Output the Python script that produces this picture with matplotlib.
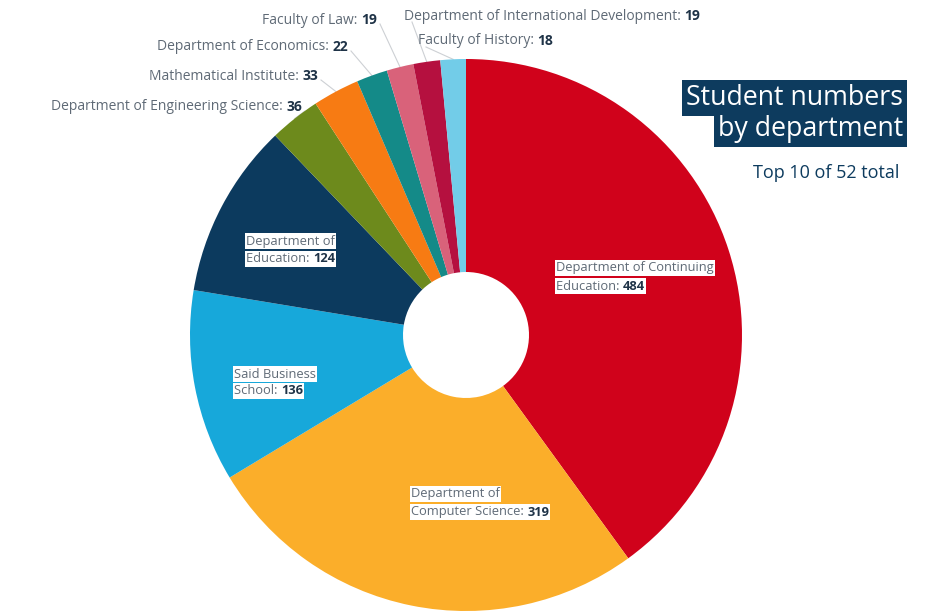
import matplotlib
matplotlib.use("Agg")
import matplotlib.pyplot as plt
import numpy as np

departments = ["Department of Continuing Education", "Department of Computer Science",
               "Said Business School", "Department of Education",
               "Department of Engineering Science", "Mathematical Institute",
               "Department of Economics", "Faculty of Law",
               "Department of International Development", "Faculty of History"]
students = [484, 319, 136, 124, 36, 33, 22, 19, 19, 18]
colors = ["#d0021b", "#fbae2a", "#17a8da", "#0c3a5e", "#6d8a1c", "#f77b13",
          "#148a88", "#d9627a", "#b5103f", "#72cce8"]

W, H = 931, 614
fig = plt.figure(figsize=(W / 100, H / 100), dpi=100)
ax = fig.add_axes([0, 0, 1, 1])

cx, cy, R, r_in = 466, H - 335, 276, 63
wedges, _ = ax.pie(students, colors=colors, startangle=90, counterclock=False,
                   center=(cx, cy), radius=R, frame=True,
                   wedgeprops=dict(width=R - r_in, linewidth=0))
ax.set_xlim(0, W)
ax.set_ylim(0, H)
ax.set_aspect("equal")
ax.axis("off")

FONT = "Open Sans"
TXT = "#5f6a76"
VAL = "#1f3347"
fig.canvas.draw()
rend = fig.canvas.get_renderer()

def two_part(x, y, normal, bold, ha="left", box=False, size=8.5):
    bb = dict(boxstyle="square,pad=0.08", fc="white", ec="none") if box else None
    if ha == "left":
        t = ax.text(x, H - y, normal, ha="left", va="center", fontsize=size,
                    family=FONT, color=TXT, bbox=bb)
        if bold:
            w = t.get_window_extent(rend).width
            ax.text(x + w, H - y, bold, ha="left", va="center", fontsize=size,
                    family=FONT, color=VAL, weight="bold", bbox=bb)
    else:
        tb = ax.text(x, H - y, bold, ha="right", va="center", fontsize=size,
                     family=FONT, color=VAL, weight="bold", bbox=bb)
        w = tb.get_window_extent(rend).width
        ax.text(x - w, H - y, normal, ha="right", va="center", fontsize=size,
                family=FONT, color=TXT, bbox=bb)

# inside labels
inside = [
    (556, 268, "Department of Continuing", 286, "Education: ", 0),
    (411, 494, "Department of", 512, "Computer Science: ", 1),
    (234, 374, "Said Business", 391, "School: ", 2),
    (246, 241, "Department of", 259, "Education: ", 3),
]
for x, y1, l1, y2, l2, i in inside:
    two_part(x, y1, l1, "", box=True, size=9.3)
    two_part(x, y2, l2, str(students[i]), box=True, size=9.3)

# outside labels with leader lines
total = sum(students)
cum = np.cumsum([0] + students)
def edge_point(i):
    frac = (cum[i] + students[i] / 2) / total
    ang = np.deg2rad(90 - frac * 360)
    return cx + R * np.cos(ang), cy + R * np.sin(ang)

outside = [
    (4, 302, 107, "right", "Department of Engineering Science: "),
    (5, 318, 76, "right", "Mathematical Institute: "),
    (6, 348, 47, "right", "Department of Economics: "),
    (7, 377, 20, "right", "Faculty of Law: "),
    (8, 404, 16, "left", "Department of International Development: "),
    (9, 418, 41, "left", "Faculty of History: "),
]
for i, x, y, ha, name in outside:
    two_part(x, y, name, str(students[i]), ha=ha, size=10)
    ex, ey = edge_point(i)
    if ha == "right":
        sx, sy = x + 3, H - y - 4
    else:
        sx, sy = x + 8, H - y - 6
    ax.plot([sx, ex], [sy, ey], color="#cdd0d4", lw=0.8, zorder=0)

# title
title_lines = [("Student numbers", 98), ("by department", 129)]
for s, y in title_lines:
    ax.text(903, H - y, s, ha="right", va="center", fontsize=19.3, family=FONT,
            color="white",
            bbox=dict(boxstyle="square,pad=0.14", fc="#0d3b5e", ec="none"))
ax.text(899, H - 173, "Top 10 of 52 total", ha="right", va="center",
        fontsize=13, family=FONT, color="#0d3b5e")

fig.savefig("out.png", dpi=100)
